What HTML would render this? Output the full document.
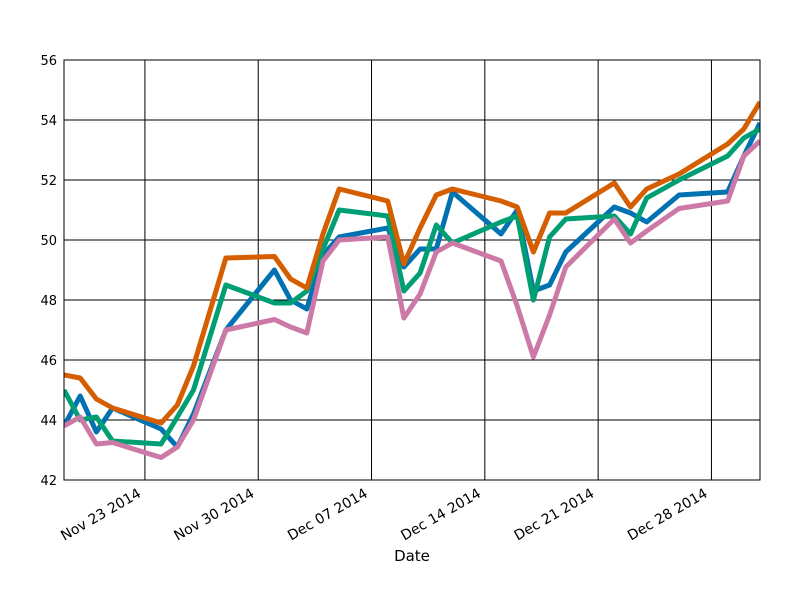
<!DOCTYPE html>
<html><head><meta charset="utf-8"><style>body{margin:0;background:#fff}svg{display:block;font-family:"DejaVu Sans","Liberation Sans",sans-serif}</style></head>
<body>
<svg id="chart" width="800" height="600" viewBox="0 0 800 600"></svg>
<script>
const days = [0,1,2,3,6,7,8,10,13,14,15,16,17,20,21,22,23,24,27,28,29,30,31,34,35,36,38,41,42,43];
const seriesBlue = [43.8,44.8,43.6,44.4,43.7,43.1,44.2,47.0,49.0,48.0,47.7,49.5,50.1,50.4,49.1,49.7,49.7,51.6,50.2,51.0,48.3,48.5,49.6,51.1,50.9,50.6,51.5,51.6,52.8,53.9];
const seriesGreen = [45.0,44.0,44.1,43.3,43.2,44.1,45.0,48.5,47.9,47.9,48.3,49.7,51.0,50.8,48.3,48.9,50.5,49.9,50.6,50.8,48.0,50.1,50.7,50.8,50.2,51.4,52.0,52.8,53.4,53.7];
const seriesOrange = [45.5,45.4,44.7,44.4,43.9,44.5,45.8,49.4,49.45,48.7,48.4,50.2,51.7,51.3,49.2,50.4,51.5,51.7,51.3,51.1,49.6,50.9,50.9,51.9,51.1,51.7,52.2,53.2,53.7,54.6];
const seriesPink = [43.8,44.1,43.2,43.25,42.75,43.1,44.0,47.0,47.35,47.1,46.9,49.3,50.0,50.1,47.4,48.2,49.6,49.9,49.3,47.8,46.1,47.5,49.1,50.7,49.9,50.3,51.05,51.3,52.8,53.3];
const yTicks = [42,44,46,48,50,52,54,56];
const xTickDays = [5,12,19,26,33,40];
const xTickLabels = ["Nov 23 2014","Nov 30 2014","Dec 07 2014","Dec 14 2014","Dec 21 2014","Dec 28 2014"];

const L=64,R=760,T=60,B=480,dMin=0,dMax=43,yMin=42,yMax=56;
const xs=d=>L+(d-dMin)/(dMax-dMin)*(R-L);
const ys=v=>B-(v-yMin)/(yMax-yMin)*(B-T);
const svg=document.getElementById('chart');
const NS='http://www.w3.org/2000/svg';
function mk(tag,attrs,parent){const e=document.createElementNS(NS,tag);for(const k in attrs)e.setAttribute(k,attrs[k]);(parent||svg).appendChild(e);return e;}

const grid=mk('g',{});


yTicks.forEach(v=>{
  const l=mk('line',{x1:L,x2:R,y1:ys(v),y2:ys(v),stroke:'#000','stroke-width':1},grid);
  
  
  const t=mk('text',{x:L-7,y:ys(v)+5,'text-anchor':'end','font-size':13});
  t.textContent=v;
  
  
});
xTickDays.forEach((d,i)=>{
  const x=xs(d);
  const l=mk('line',{x1:x,x2:x,y1:T,y2:B,stroke:'#000','stroke-width':1},grid);
  
  
  const ax=x-3, ay=B+16;
  const t=mk('text',{x:ax,y:ay,'text-anchor':'end','font-size':14,transform:`rotate(-30 ${ax} ${ay})`});
  t.textContent=xTickLabels[i];
  
  
});

const all=[[seriesBlue,'#0072B2','series-blue'],[seriesGreen,'#009E73','series-green'],[seriesOrange,'#D55E00','series-orange'],[seriesPink,'#CC79A7','series-pink']];
const clip=mk('clipPath',{id:'pc'});mk('rect',{x:L,y:T,width:R-L,height:B-T},clip);
all.forEach(([vals,c,n])=>{
  const p=mk('polyline',{points:vals.map((v,i)=>xs(days[i])+','+ys(v)).join(' '),fill:'none',stroke:c,'stroke-width':5,'stroke-linejoin':'round','clip-path':'url(#pc)'});
  
  
});

const frame=mk('rect',{x:L,y:T,width:R-L,height:B-T,fill:'none',stroke:'#000','stroke-width':1});


const xl=mk('text',{x:412,y:561,'text-anchor':'middle','font-size':15});
xl.textContent='Date';


</script>
</body></html>
